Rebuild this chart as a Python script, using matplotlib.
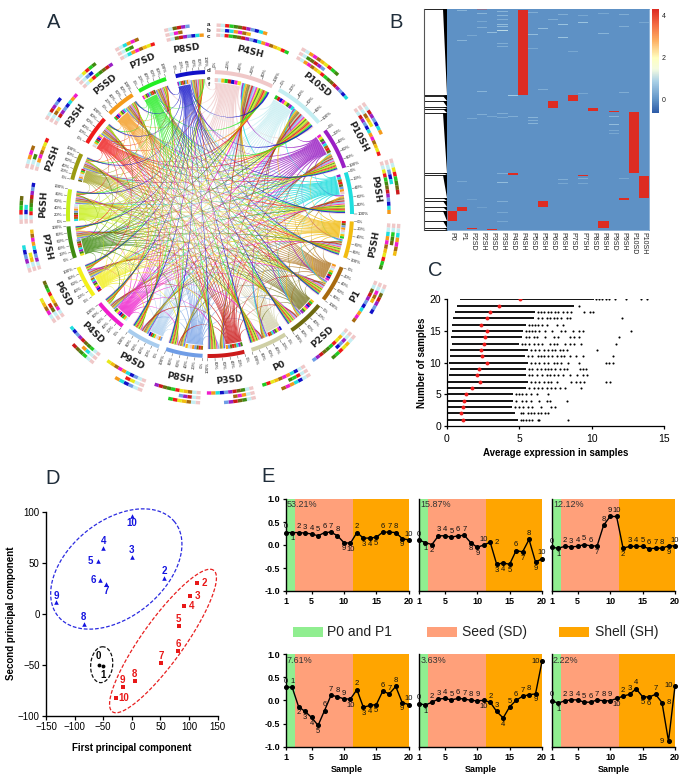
"""Multi-panel figure: chord diagram, heatmap, expression dots, PCA, and PC profiles."""
import numpy as np
import matplotlib
matplotlib.use('Agg')
import matplotlib.pyplot as plt
from matplotlib.colors import LinearSegmentedColormap
from matplotlib.path import Path as MPath
from matplotlib.patches import PathPatch, Polygon, Rectangle

plt.rcParams['font.family'] = ['Liberation Sans', 'DejaVu Sans']

W, H = 685, 781

# panel A: sectors clockwise from the top
SECTORS = ['P4SH', 'P10SD', 'P10SH', 'P9SH', 'P5SH', 'P1', 'P2SD', 'P0', 'P3SD', 'P8SH',
           'P9SD', 'P4SD', 'P6SD', 'P7SH', 'P6SH', 'P2SH', 'P3SH', 'P5SD', 'P7SD', 'P8SD']
SECTOR_START = [2, 29, 54, 73, 93, 112, 130, 148, 166, 183, 201, 218, 235, 252, 267, 284, 300, 315, 330, 346]
SECTOR_END = [26, 50, 71, 90, 108, 127, 145, 163, 181, 198, 215, 231, 248, 265, 280, 295, 312, 327, 342, 358]
SECTOR_COLOR = ['#f0c8c8', '#c4eef2', '#9a1fc4', '#1fdede', '#f2bc10', '#a86a10', '#6e6a10', '#cfcfa6',
                '#cc1a1a', '#6f9de6', '#a8ccee', '#f01ccc', '#f4f01a', '#3f8a10', '#c8f01a', '#9a9a10',
                '#f01a1a', '#f59a1a', '#22ee22', '#1010c8']
FAN_SHARE = [0.47, 0.45, 0.52, 0.50, 0.50, 0.50, 0.48, 0.42, 0.48, 0.50,
             0.42, 0.52, 0.50, 0.55, 0.55, 0.50, 0.50, 0.50, 0.50, 0.45]
PALE_SECTORS = [0, 1, 7, 10, 9, 6, 5, 15]
TILE_COLORS = ['#f0c8c8', '#c4eef2', '#f2bc10', '#22cc22', '#cc1a1a', '#1010c8', '#f01ccc', '#e8e81a',
               '#3f8a10', '#9a1fc4', '#1fdede', '#a86a10', '#f01a1a', '#6e6a10', '#6f9de6', '#f59a1a']
TRACK_RADIUS = [189, 184, 179]
TRACK_LENGTH = [0.65, 0.45, 1.0]
PCT_LABELS = ['0%', '20%', '40%', '60%', '80%', '100%']

# panel B
HEAT_SAMPLES = ['P0', 'P1', 'P2SD', 'P2SH', 'P3SD', 'P3SH', 'P4SD', 'P4SH', 'P5SD', 'P5SH',
                'P6SD', 'P6SH', 'P7SD', 'P7SH', 'P8SD', 'P8SH', 'P9SD', 'P9SH', 'P10SD', 'P10SH']
BLOCK_COL = [7, 18, 19, 10, 12, 14, 16, 6, 9, 17, 1, 0, 15, 2, 4, 3, 13]
BLOCK_TOP = [4, 310, 499, 276, 257, 296, 306, 492, 574, 567, 594, 606, 634, 656, 660, 0, 497]
BLOCK_BOTTOM = [257, 491, 566, 296, 275, 305, 310, 496, 594, 572, 605, 634, 655, 660, 662, 4, 499]
STREAK_COL = [5, 5, 5, 5, 5, 5, 5, 5, 1, 1, 3, 3, 3, 2, 4, 6, 8, 8, 8, 9, 10, 11, 11, 11, 12, 13, 13,
              15, 15, 17, 17, 19, 3, 9, 13, 17, 5, 3, 4, 6, 8, 8, 8, 16, 16, 16, 16, 2, 5, 5, 1, 11,
              13, 13, 11, 5, 5, 5, 3, 2, 17, 5]
STREAK_ROW = [7, 17, 30, 44, 52, 64, 102, 110, 4, 92, 12, 35, 54, 79, 69, 257, 10, 75, 117, 56, 29, 14,
              44, 85, 127, 38, 19, 72, 12, 14, 50, 40, 245, 240, 252, 249, 312, 315, 320, 322, 324, 332,
              340, 322, 344, 362, 372, 327, 324, 517, 514, 508, 505, 520, 520, 575, 608, 636, 592, 568,
              507, 492]
STREAK_VALUE = [0.5, 0.5, 0.4, 0.6, 0.6, 1.0, 0.4, 0.4, 0.5, 0.5, 0.5, 0.3, 0.4, 0.3, 0.6, 0.8, 0.4, 0.6,
                0.3, 0.6, 0.4, 0.4, 0.7, 0.7, 0.3, 0.7, 0.3, 0.5, 0.3, 0.4, 0.4, 0.3, 0.5, 0.4, 0.3, 0.4,
                0.4, 0.4, 0.3, 0.4, 0.5, 0.4, 0.5, 0.5, 0.6, 0.3, 0.3, 0.3, 0.3, 0.6, 0.3, 0.4, 0.4, 0.3,
                0.3, 0.4, 0.3, 0.3, 0.2, 0.2, 0.3, 0.4]
DENDRO_EDGES = [28, 285, 288, 304, 322, 328, 338, 518, 524, 595, 602, 622, 634, 662, 683, 690]

# panel C
C_ROWS = list(range(1, 21))
C_START = [0, 0, 0, 0, 0, 0, 0.1, 0.15, 0.2, 0.15, 0.2, 0.25, 0.4, 0.3, 0.35, 0.4, 0.45, 0.6, 0.7, 0.9]
C_SOLID = [4.9, 4.7, 4.5, 4.6, 4.6, 5.5, 5.6, 5.5, 5.5, 5.6, 5.4, 5.6, 5.0, 5.2, 5.3, 5.5, 6.0, 6.1, 8.8, 10.2]
C_MEDIAN = [1.15, 1.0, 1.1, 1.2, 1.3, 1.75, 2.3, 2.1, 2.2, 2.75, 2.45, 2.35, 2.55, 2.65, 2.75, 2.35, 2.8, 3.0, 3.6, 5.05]
C_OUTLIERS = [
    [5.1, 5.3, 5.5, 5.7, 5.9, 6.3, 6.4, 8.4],
    [5.1, 5.3, 5.6, 5.8, 6.0, 6.3, 6.5, 6.8, 7.0],
    [4.7, 5.0, 5.3, 5.6, 5.9, 6.5, 7.2, 7.5],
    [4.8, 5.2, 5.5, 5.8, 6.4, 6.9, 7.1, 8.3],
    [4.8, 5.0, 5.2, 5.5, 5.8, 6.2, 7.0],
    [5.7, 6.0, 6.3, 6.6, 6.9, 7.2, 7.5, 7.8, 8.2, 9.3],
    [5.8, 6.1, 6.4, 6.7, 7.0, 7.2, 7.6, 8.6, 8.9, 9.2, 9.5, 11.0, 11.3],
    [5.7, 5.9, 6.2, 6.6, 6.9, 7.1, 7.4, 7.7, 8.0, 8.5, 9.0, 9.4, 9.7],
    [5.7, 5.9, 6.2, 6.5, 6.8, 7.0, 7.2, 7.5, 7.8, 8.1, 8.3, 9.2, 9.4, 9.6],
    [5.8, 6.1, 6.4, 6.7, 7.0, 7.4, 7.6, 7.9, 8.4, 9.1, 11.0, 11.2, 11.5],
    [5.6, 5.9, 6.3, 6.5, 6.7, 7.0, 7.3, 7.6, 7.9, 8.1, 8.5, 8.9, 9.4, 11.5],
    [5.8, 6.1, 6.4, 6.7, 7.0, 7.3, 7.5, 7.8, 8.0, 8.3, 10.4],
    [5.2, 5.4, 5.7, 6.0, 6.3, 6.6, 7.1, 7.4, 7.6, 8.2, 8.5, 8.8, 9.3, 11.7],
    [5.5, 5.7, 6.0, 6.2, 6.8, 7.4, 7.7, 8.5, 8.8, 9.1, 11.9],
    [5.5, 5.7, 5.9, 6.1, 6.4, 6.8, 7.3, 7.9, 8.2, 8.7, 9.1, 9.4, 12.7],
    [5.7, 5.9, 6.1, 6.3, 6.6, 6.9, 7.6, 8.0],
    [6.3, 6.6, 6.9, 7.1, 7.4, 7.6, 7.9, 8.3, 8.5, 12.1],
    [6.3, 6.5, 6.7, 7.0, 7.2, 7.5, 7.7, 8.0, 8.3, 8.6, 9.5, 9.9, 10.1],
    [9.1],
    [10.3, 10.5, 10.7, 11.0, 11.2, 11.6, 12.4, 13.4, 13.8],
]

# panel D
BLUE_LABEL = ['2', '3', '4', '5', '6', '7', '8', '9', '10']
BLUE_X = [57, 0, -50, -60, -55, -45, -84, -132, 0]
BLUE_Y = [35, 56, 64, 52, 33, 29, -10, 11, 96]
RED_LABEL = ['2', '3', '4', '5', '6', '7', '8', '9', '10']
RED_X = [113, 101, 91, 82, 81, 51, 5, -16, -28]
RED_Y = [30, 17, 8, -12, -37, -48, -66, -72, -83]
BLACK_X = [-57, -50]
BLACK_Y = [-50, -51]
BLUE_SIDE = ['a', 'a', 'a', 'l', 'l', 'b', 'a', 'a', 'b']
RED_SIDE = ['r', 'r', 'r', 'a', 'a', 'a', 'a', 'a', 'r']

# panel E
SAMPLE = list(range(1, 21))
SAMPLE_TAG = [0, 1, 2, 3, 4, 5, 6, 7, 8, 9, 10, 2, 3, 4, 5, 6, 7, 8, 9, 10]
PC_PERCENT = ['53.21%', '15.87%', '12.12%', '7.61%', '3.63%', '2.22%']
PC_VALUES = [
    [0.27, 0.27, 0.27, 0.26, 0.24, 0.20, 0.27, 0.28, 0.20, 0.05, 0.04, 0.27, 0.15, 0.15, 0.17, 0.28, 0.28, 0.27, 0.14, 0.11],
    [0.11, 0.05, 0.01, 0.20, 0.20, 0.17, 0.20, 0.21, 0.05, -0.05, 0.00, 0.06, -0.42, -0.39, -0.42, -0.12, -0.15, 0.12, -0.37, -0.30],
    [-0.05, -0.07, -0.03, -0.04, -0.03, 0.01, -0.02, -0.02, 0.43, 0.62, 0.62, -0.07, -0.03, -0.03, -0.03, -0.08, -0.07, -0.07, -0.02, -0.02],
    [0.29, 0.28, -0.14, -0.24, -0.37, -0.54, -0.22, 0.11, 0.08, 0.03, 0.03, 0.23, -0.15, -0.11, -0.09, 0.20, 0.14, 0.30, -0.05, -0.09],
    [-0.07, -0.10, -0.04, 0.03, 0.04, 0.01, 0.04, 0.03, 0.00, -0.01, 0.00, -0.04, -0.24, -0.38, -0.14, 0.00, 0.09, 0.12, 0.14, 0.84],
    [-0.01, -0.06, -0.01, 0.01, 0.01, -0.04, -0.04, 0.01, -0.01, -0.01, 0.04, 0.09, 0.13, 0.25, 0.08, 0.07, 0.13, -0.05, -0.88, 0.31],
]
PC_TAG_SIDE = ['abaaaaaaabbabbbaaaba', 'abbaaaaabbarbbbababa', 'abaaaaabaaabaaaaaaba',
               'aabbbbaaaababbbaaaba', 'abaaaaaaaabaabaaaabl', 'abaaaaaaaabaaabbarll']
PHASE_EDGES = [1, 2.44, 11.4, 20]
PHASE_COLORS = ['#90ee90', '#ffa07a', '#ffa500']
PHASE_NAMES = ['P0 and P1', 'Seed (SD)', 'Shell (SH)']

fig = plt.figure(figsize=(W / 100, H / 100), dpi=100)


def px_axes(x0, y_top, x1, y_bot):
    return fig.add_axes([x0 / W, 1 - y_bot / H, (x1 - x0) / W, (y_bot - y_top) / H])


page = fig.add_axes([0, 0, 1, 1])
page.set_xlim(0, W)
page.set_ylim(H, 0)
page.axis('off')

CX, CY = 210, 214


def polar(r, deg):
    t = np.deg2rad(deg)
    return CX + r * np.sin(t), CY - r * np.cos(t)


def band(r0, r1, t0, t1, color, **kw):
    ts = np.linspace(t0, t1, 12)
    pts = [polar(r1, t) for t in ts] + [polar(r0, t) for t in ts[::-1]]
    page.add_patch(Polygon(pts, closed=True, facecolor=color, edgecolor='none', **kw))


def ribbon(a0, a1, b0, b1, mid, r_a, r_b, color, alpha):
    sep = abs(((a0 - b0) + 180) % 360 - 180)
    rc_a = 132 * max(0.45, 0.95 - sep / 150)
    rc_b = 132 * max(0.40, 0.95 - sep / 130)
    # fan edges keep most of their spread, so the own-colour wedge stays solid for a while
    c_a0 = mid + 0.6 * (a0 - mid)
    c_a1 = mid + 0.6 * (a1 - mid)
    verts = [polar(r_a, a0), polar(rc_a, c_a0), polar(rc_b, b0), polar(r_b, b0), polar(r_b, b1),
             polar(rc_b, b1), polar(rc_a, c_a1), polar(r_a, a1), polar(r_a, a0)]
    codes = [MPath.MOVETO, MPath.CURVE4, MPath.CURVE4, MPath.CURVE4, MPath.LINETO,
             MPath.CURVE4, MPath.CURVE4, MPath.CURVE4, MPath.CLOSEPOLY]
    page.add_patch(PathPatch(MPath(verts, codes), facecolor=color, edgecolor=color, alpha=alpha, lw=0.08))


# panel A
n_sec = len(SECTORS)
fan_end = [s + f * (e - s) for s, e, f in zip(SECTOR_START, SECTOR_END, FAN_SHARE)]
# inbound strip order ends with P4SH so the pale pink sits at each sector's end
strip_order = list(range(1, n_sec)) + [0]
draw_order = PALE_SECTORS + [s for s in range(n_sec) if s not in PALE_SECTORS]
for i in draw_order:
    mid = 0.5 * (SECTOR_START[i] + fan_end[i])
    step = (fan_end[i] - SECTOR_START[i]) / (n_sec - 1)
    for k in range(n_sec - 1):
        j = (i - 1 - k) % n_sec
        a0 = SECTOR_START[i] + k * step
        order = [s for s in strip_order if s != j]
        slot = order.index(i)
        width = (SECTOR_END[j] - fan_end[j]) / (n_sec - 1)
        b0 = fan_end[j] + slot * width
        ribbon(a0, a0 + step, b0, b0 + width, mid, 131, 135,
               SECTOR_COLOR[i], 0.75 if i in PALE_SECTORS else 0.88)

for i, name in enumerate(SECTORS):
    s, e = SECTOR_START[i], SECTOR_END[i]
    band(140, 144, s, e, SECTOR_COLOR[i])
    # inner tile row sits over the own-colour fan only
    tile_edges = np.linspace(s, fan_end[i], 9)
    for k in range(8):
        band(132, 136, tile_edges[k], tile_edges[k + 1], TILE_COLORS[(i * 3 + k) % len(TILE_COLORS)])
    # outer mosaic tracks a, b, c
    for tr, (rad, frac) in enumerate(zip(TRACK_RADIUS, TRACK_LENGTH)):
        t_end = s + frac * (e - s)
        tile_count = max(3, int((t_end - s) / 1.3))
        edges = np.linspace(s, t_end, tile_count + 1)
        for k in range(tile_count):
            col = TILE_COLORS[k] if k < 2 else TILE_COLORS[2 + (k * 5 + i * 3 + tr * 7) % (len(TILE_COLORS) - 2)]
            band(rad - 1.7, rad + 1.7, edges[k], edges[k + 1], col)
    # percent scale
    for lab, t in zip(PCT_LABELS, np.linspace(s, e, 6)):
        x0, y0 = polar(144.5, t)
        x1, y1 = polar(147, t)
        page.plot([x0, x1], [y0, y1], color='#333333', lw=0.3)
        tx, ty = polar(147.5, t)
        norm = t % 360
        if norm <= 180:
            page.text(tx, ty, lab, fontsize=3.2, rotation=90 - norm, rotation_mode='anchor',
                      ha='left', va='center', color='#222222')
        else:
            page.text(tx, ty, lab, fontsize=3.2, rotation=270 - norm, rotation_mode='anchor',
                      ha='right', va='center', color='#222222')
    mid_t = 0.5 * (s + e)
    lx, ly = polar(167, mid_t)
    rot = -mid_t if (mid_t < 90 or mid_t > 270) else 180 - mid_t
    page.text(lx, ly, name, fontsize=6.6, fontweight='bold', family='DejaVu Sans', rotation=rot,
              rotation_mode='anchor', ha='center', va='center', color='#222222')

for lab, y in zip('abcdef', [24, 30, 36, 71, 78, 84]):
    page.text(209, y, lab, fontsize=4.5, fontweight='bold', ha='center', va='center', color='#222222')

for lab, x, y in zip('ABCDE', [54, 396, 435, 53, 268], [22, 22, 270, 478, 477]):
    page.text(x, y, lab, fontsize=14.5, ha='center', va='center', color='#1f2d3a')

# panel B
heat = np.zeros((662, 20))
for c, r, v in zip(STREAK_COL, STREAK_ROW, STREAK_VALUE):
    heat[r:r + 3, c] = v
for c, t, b in zip(BLOCK_COL, BLOCK_TOP, BLOCK_BOTTOM):
    heat[t:b, c] = 4.27
heat_cmap = LinearSegmentedColormap.from_list('heat', [
    (0.0, '#2f5da8'), (0.123, '#5f92c6'), (0.3, '#a8cfe6'), (0.42, '#f4fbe0'),
    (0.53, '#ffffbf'), (0.7, '#fdae61'), (0.85, '#f46d43'), (1.0, '#dd2c22')])
ax_b = px_axes(447.3, 9.3, 649, 230)
im = ax_b.imshow(heat, aspect='auto', cmap=heat_cmap, vmin=-0.6, vmax=4.27, interpolation='nearest')
ax_b.set_yticks([])
ax_b.set_xticks(range(20))
ax_b.set_xticklabels(HEAT_SAMPLES, rotation=-90, fontsize=5, color='#222222')
ax_b.tick_params(axis='x', length=0, pad=1.5)
for sp in ax_b.spines.values():
    sp.set_color('#5f92c6')
    sp.set_linewidth(0.5)
cax = px_axes(652.3, 9.3, 659.3, 112.7)
cb = fig.colorbar(im, cax=cax, ticks=[0, 2, 4])
cb.outline.set_visible(False)
cax.tick_params(length=0, labelsize=5, pad=1.5, colors='#222222')

for top, bot in zip(DENDRO_EDGES[:-1], DENDRO_EDGES[1:]):
    page.add_patch(Polygon([(400 + 128 / 3, top / 3), (400 + 142 / 3, top / 3), (400 + 142 / 3, bot / 3)],
                           closed=True, facecolor='black', edgecolor='none'))
for edge in DENDRO_EDGES:
    page.plot([424, 447], [edge / 3, edge / 3], color='black', lw=0.6)
page.plot([424, 424], [DENDRO_EDGES[0] / 3, DENDRO_EDGES[-1] / 3], color='#555555', lw=0.8)

# panel C
ax_c = px_axes(446.7, 299.3, 664, 426)
ax_c.hlines(C_ROWS, C_START, C_SOLID, color='black', lw=1.3)
for row, vals in zip(C_ROWS, C_OUTLIERS):
    ax_c.plot(vals, [row] * len(vals), ls='none', marker='o', ms=1.5, color='black', mew=0)
ax_c.plot(C_MEDIAN, C_ROWS, ls='none', marker='o', ms=2.8, color='#ee1c1c', mew=0)
ax_c.set_xlim(0, 15)
ax_c.set_ylim(0, 20)
ax_c.set_xticks([0, 5, 10, 15])
ax_c.set_yticks([0, 5, 10, 15, 20])
ax_c.tick_params(labelsize=7.5, width=0.9, length=2.5)
ax_c.tick_params(axis='x', pad=3)
ax_c.tick_params(axis='y', pad=1.5)
ax_c.set_xlabel('Average expression in samples', fontsize=7, fontweight='bold', labelpad=3)
ax_c.set_ylabel('Number of samples', fontsize=7, fontweight='bold', labelpad=2)
for sp in ['top', 'right']:
    ax_c.spines[sp].set_visible(False)
for sp in ['left', 'bottom']:
    ax_c.spines[sp].set_linewidth(0.9)

# panel D
ax_d = px_axes(46, 511.7, 217.7, 715.7)
ax_d.set_xlim(-150, 150)
ax_d.set_ylim(-100, 100)


def tilted_ellipse(ax, cx_px, cy_px, a_px, b_px, ang_deg, color):
    # ellipse params are on-screen pixels; map to data through the axes scale
    sx, sy = (217.7 - 46) / 300, (715.7 - 511.7) / 200
    t = np.linspace(0, 2 * np.pi, 200)
    ang = np.deg2rad(ang_deg)
    ex = cx_px + a_px * np.cos(t) * np.cos(ang) - b_px * np.sin(t) * np.sin(ang)
    ey = cy_px - a_px * np.cos(t) * np.sin(ang) - b_px * np.sin(t) * np.cos(ang)
    ax.plot((ex - 46) / sx - 150, 100 - (ey - 511.7) / sy, color=color, lw=0.9, ls=(0, (3, 1.5)), clip_on=False)


tilted_ellipse(ax_d, 116.3, 569, 75, 48, 39, '#2a2ae0')
tilted_ellipse(ax_d, 163, 641, 87, 21, 54.4, '#e82020')
tilted_ellipse(ax_d, 101.7, 664.7, 18, 11, 85, '#111111')

ax_d.plot(BLUE_X, BLUE_Y, ls='none', marker='^', ms=3.3, color='#1414e0', mew=0)
ax_d.plot(RED_X, RED_Y, ls='none', marker='s', ms=2.8, color='#e81818', mew=0)
ax_d.plot(BLACK_X, BLACK_Y, ls='none', marker='o', ms=2.8, color='black', mew=0)
side_off = {'a': (0, 5), 'b': (0, -5), 'l': (-5, 0), 'r': (5.5, 0)}
for labs, xs, ys, sides, col in [(BLUE_LABEL, BLUE_X, BLUE_Y, BLUE_SIDE, '#1414e0'),
                                 (RED_LABEL, RED_X, RED_Y, RED_SIDE, '#e81818')]:
    for lab, x, y, s in zip(labs, xs, ys, sides):
        ax_d.annotate(lab, (x, y), xytext=side_off[s], textcoords='offset points', color=col, fontsize=7,
                      fontweight='bold', ha='center', va='center')
ax_d.annotate('0', (BLACK_X[0], BLACK_Y[0]), xytext=(-1, 6), textcoords='offset points', fontsize=7,
              fontweight='bold', ha='center', va='center')
ax_d.annotate('1', (BLACK_X[1], BLACK_Y[1]), xytext=(0, -6.5), textcoords='offset points', fontsize=7,
              fontweight='bold', ha='center', va='center')
ax_d.set_xticks([-150, -100, -50, 0, 50, 100, 150])
ax_d.set_yticks([-100, -50, 0, 50, 100])
ax_d.tick_params(labelsize=7, width=0.9, length=3, pad=1.5)
ax_d.set_xlabel('First principal component', fontsize=7, fontweight='bold', labelpad=8)
ax_d.set_ylabel('Second principal component', fontsize=7, fontweight='bold', labelpad=1)
for sp in ['top', 'right']:
    ax_d.spines[sp].set_visible(False)
for sp in ['left', 'bottom']:
    ax_d.spines[sp].set_linewidth(1.0)

# panel E
col_x = [(285.7, 408.7), (419, 542), (551.7, 675)]
row_y = [(499, 591), (654, 746.7)]
tag_off = {'a': (0, 4.2), 'b': (0, -4.4), 'l': (-4.8, 0), 'r': (4.8, 0)}
for idx, (vals, pct, sides) in enumerate(zip(PC_VALUES, PC_PERCENT, PC_TAG_SIDE)):
    r, c = divmod(idx, 3)
    ax = px_axes(col_x[c][0], row_y[r][0], col_x[c][1], row_y[r][1])
    for lo, hi, colr in zip(PHASE_EDGES[:-1], PHASE_EDGES[1:], PHASE_COLORS):
        ax.axvspan(lo, hi, color=colr, lw=0)
    ax.plot(SAMPLE, vals, color='black', lw=1.0, marker='o', ms=2.6, clip_on=False, zorder=4)
    for x, y, tag, s in zip(SAMPLE, vals, SAMPLE_TAG, sides):
        ax.annotate(str(tag), (x, y), xytext=tag_off[s], textcoords='offset points', fontsize=5.5,
                    ha='center', va='center', color='#111111', zorder=5, annotation_clip=False)
    ax.text(1.2, 0.87, pct, fontsize=6.5, color='#333333', ha='left', va='center', zorder=5)
    ax.set_xlim(1, 20)
    ax.set_ylim(-1, 1)
    ax.set_xticks([1, 5, 10, 15, 20])
    ax.set_xticklabels(['1', '5', '10', '15', '20'], fontweight='bold')
    ax.tick_params(axis='x', labelsize=6.5, width=0.9, length=2.5, pad=2)
    if c == 0:
        ax.set_yticks([-1, -0.5, 0, 0.5, 1])
        ax.set_yticklabels(['-1.0', '-0.5', '0.0', '0.5', '1.0'], fontweight='bold')
        ax.tick_params(axis='y', labelsize=6.5, width=0.9, length=2.5, pad=1.5)
    else:
        ax.set_yticks([])
    if r == 1:
        ax.set_xlabel('Sample', fontsize=6.5, fontweight='bold', labelpad=2)
    for sp in ['top', 'right']:
        ax.spines[sp].set_visible(False)
    for sp in ['left', 'bottom']:
        ax.spines[sp].set_linewidth(1.0)

# panel E legend
for x, tx, colr, name in zip([293, 427, 559], [327, 462, 595], PHASE_COLORS, PHASE_NAMES):
    page.add_patch(Rectangle((x, 627), 30, 10, facecolor=colr, edgecolor='none'))
    page.text(tx, 632, name, fontsize=10, va='center', ha='left', color='#222222')

fig.savefig('out.png', dpi=100)
